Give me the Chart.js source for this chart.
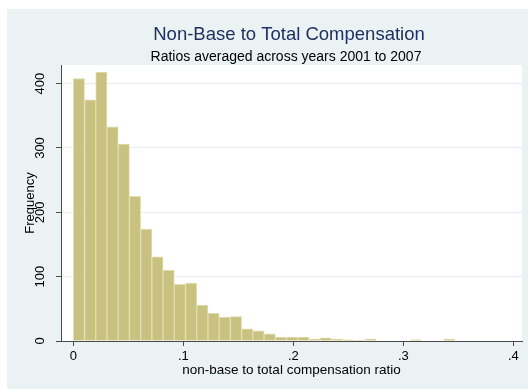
<!DOCTYPE html>
<html>
<head>
<meta charset="utf-8">
<title>Non-Base to Total Compensation</title>
<style>
  html, body { margin: 0; padding: 0; background: #ffffff; }
  canvas { display: block; }
</style>
<script src="https://cdn.jsdelivr.net/npm/chart.js@4/dist/chart.umd.min.js"></script>
</head>
<body>
<canvas id="chart" width="528" height="389"></canvas>
<script>
// Histogram: 34 equal-width bins of the non-base / total compensation ratio
const binStart = 0;
const binWidth = 0.0102;
const frequencies = [408, 375, 418, 333, 306, 225, 174, 131, 110, 88,
                     90, 56, 43, 37, 38, 19, 16, 11, 6, 6,
                     6, 3, 5, 3, 2, 1, 3, 0, 0, 0,
                     2, 0, 0, 3];

const xTickValues = [0, 0.1, 0.2, 0.3, 0.4];
const xTickLabels = ['0', '.1', '.2', '.3', '.4'];
const yTickValues = [0, 100, 200, 300, 400];
const yTickLabels = ['0', '100', '200', '300', '400'];

const titleText = 'Non-Base to Total Compensation';
const subtitleText = 'Ratios averaged across years 2001 to 2007';
const xAxisTitle = 'non-base to total compensation ratio';
const yAxisTitle = 'Frequency';

const FONT = "'Liberation Sans', Arial, Helvetica, sans-serif";
const AXIS_COLOR = '#4a4a4a';
const REGION_COLOR = '#eaf2f3';
const GRID_COLOR = '#e3ecee';

// Graph region background, white plot region, and the two heading lines
const framePlugin = {
  id: 'frame',
  beforeDraw(chart) {
    const { ctx, chartArea: a, width, height } = chart;
    ctx.save();
    ctx.fillStyle = '#ffffff';
    ctx.fillRect(0, 0, width, height);
    ctx.fillStyle = REGION_COLOR;
    ctx.fillRect(7, 9, width - 7, height - 9);
    ctx.fillStyle = '#ffffff';
    ctx.fillRect(a.left, a.top, a.right - a.left, a.bottom - a.top);
    ctx.restore();
  },
  afterDraw(chart) {
    const { ctx } = chart;
    ctx.save();
    ctx.textAlign = 'center';
    ctx.textBaseline = 'alphabetic';
    ctx.fillStyle = '#1e3160';
    ctx.font = '18.5px ' + FONT;
    ctx.fillText(titleText, 289, 40);
    ctx.fillStyle = '#000000';
    ctx.font = '14px ' + FONT;
    ctx.fillText(subtitleText, 286, 61);
    ctx.restore();
  }
};

const binData = frequencies.map((f, i) => ({ x: binStart + (i + 0.5) * binWidth, y: f }));

new Chart(document.getElementById('chart'), {
  type: 'bar',
  data: {
    datasets: [{
      label: yAxisTitle,
      data: binData,
      backgroundColor: 'rgb(200, 193, 127)',
      borderColor: 'rgb(226, 222, 178)',
      borderWidth: 1,
      categoryPercentage: 1,
      barPercentage: 1
    }]
  },
  options: {
    responsive: false,
    animation: false,
    layout: { padding: { left: 0, right: 6, top: 65, bottom: 0 } },
    plugins: {
      legend: { display: false },
      tooltip: { enabled: false }
    },
    scales: {
      x: {
        type: 'linear',
        min: -0.0112,
        max: 0.4079,
        offset: false,
        afterBuildTicks: s => { s.ticks = xTickValues.map(v => ({ value: v })); },
        afterFit: s => { s.height = 48; },
        border: { color: AXIS_COLOR, width: 1 },
        grid: { offset: false, drawOnChartArea: false, drawTicks: true, tickLength: 5, tickColor: AXIS_COLOR },
        ticks: {
          autoSkip: false, maxRotation: 0, padding: 3, color: '#000000',
          font: { family: FONT, size: 13 },
          callback: (v, i) => xTickLabels[i]
        },
        title: {
          display: true, text: xAxisTitle, color: '#000000',
          font: { family: FONT, size: 13.5 },
          padding: { top: 0, bottom: 11 }
        }
      },
      y: {
        type: 'linear',
        min: 0,
        max: 429,
        afterBuildTicks: s => { s.ticks = yTickValues.map(v => ({ value: v })); },
        afterFit: s => { s.width = 61; },
        border: { color: AXIS_COLOR, width: 1 },
        grid: { color: GRID_COLOR, lineWidth: 1, drawTicks: true, tickLength: 5, tickColor: AXIS_COLOR },
        ticks: {
          minRotation: 90, maxRotation: 90, crossAlign: 'center', padding: 5,
          color: '#000000',
          font: { family: FONT, size: 13 },
          callback: (v, i) => yTickLabels[i]
        },
        title: {
          display: true, text: yAxisTitle, color: '#000000',
          font: { family: FONT, size: 13 },
          padding: { top: 23, bottom: 0 }
        }
      }
    }
  },
  plugins: [framePlugin]
});
</script>
</body>
</html>
